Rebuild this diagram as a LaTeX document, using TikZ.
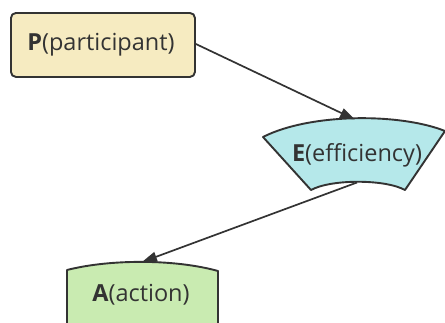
\documentclass[tikz,border=0pt]{standalone}
\usepackage{fontspec}
\setmainfont{Open Sans}
\usetikzlibrary{arrows.meta}
\definecolor{edgegray}{HTML}{333333}
\definecolor{pfill}{HTML}{F6EBC1}
\definecolor{efill}{HTML}{B5E8EA}
\definecolor{afill}{HTML}{C9EBB1}
\tikzset{
  shapeline/.style={draw=edgegray, line width=1.9pt, line join=round},
  label text/.style={font=\fontsize{23.5}{27}\selectfont, text=edgegray, inner sep=0pt},
  link/.style={draw=edgegray, line width=1.7pt, -{Triangle[length=15pt,width=10pt]}},
}
\begin{document}
\begin{tikzpicture}[x=1pt, y=-1pt]
  \useasboundingbox (0,0) rectangle (445,322);
  \clip (0,0) rectangle (445,322);

  % participant box
  \node[shapeline, fill=pfill, rounded corners=5pt, minimum width=184pt, minimum height=64pt,
        anchor=north west] (P) at (10,12) {};
  \node[label text] (Ptext) at (101,45) {\textbf{P}(participant)};

  % efficiency: trapezoid with curved top and bottom
  \path[shapeline, fill=efill]
    (263,137) .. controls (310,113) and (400,113) .. (445,131)
    -- (405,190)
    .. controls (385,179) and (331,179) .. (311,190) -- cycle;
  \coordinate (Etop) at (355,119.5);
  \coordinate (Ebot) at (357,182.5);
  \node[label text] (E) at (357,155) {\textbf{E}(efficiency)};

  % action: box with arched top, running off the lower edge
  \path[shapeline, fill=afill]
    (67,330) -- (67,270) .. controls (110,259) and (175,259) .. (218,271) -- (218,330);
  \coordinate (Atop) at (142,262);
  \node[label text] (A) at (141,295) {\textbf{A}(action)};

  % connectors
  \draw[link] (P.east |- 0,44) -- (Etop);
  \draw[link] (Ebot) -- (Atop);
\end{tikzpicture}
\end{document}
